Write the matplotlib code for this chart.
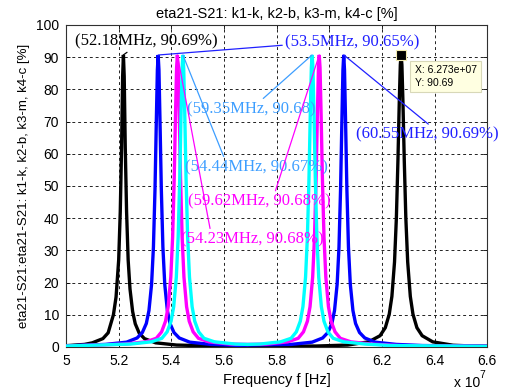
import matplotlib
matplotlib.use("Agg")
import matplotlib.pyplot as plt
import numpy as np

# Frequency in MHz, efficiency in %
freq_k = [50.0, 50.7, 51.0, 51.4, 51.6, 51.8, 51.9, 52.0, 52.06, 52.11, 52.15, 52.18,
          52.21, 52.25, 52.30, 52.36, 52.43, 52.53, 52.63, 52.78, 52.98, 53.4, 54.2,
          55.5, 57.5, 59.5, 60.7, 61.5, 61.93, 62.13, 62.28, 62.38, 62.48, 62.55, 62.61,
          62.66, 62.70, 62.73, 62.76, 62.80, 62.85, 62.91, 62.98, 63.08, 63.18, 63.33,
          63.53, 63.93, 64.7, 65.3, 66.0]
eta_k = [0.4, 0.8, 1.3, 2.6, 4.4, 10.0, 15.5, 27.0, 42.0, 62.0, 84.0, 90.69,
         84.0, 62.0, 42.0, 27.0, 18.0, 11.0, 7.2, 4.3, 2.6, 1.3, 0.6,
         0.35, 0.25, 0.3, 0.6, 1.6, 3.5, 6.0, 10.2, 15.7, 26.4, 40.0, 58.0,
         76.0, 87.6, 90.69, 87.6, 76.0, 58.0, 40.0, 26.4, 15.7, 10.2, 6.0,
         3.5, 1.6, 0.55, 0.35, 0.25]

freq_b = [50.0, 51.5, 52.3, 52.7, 52.9, 53.05, 53.15, 53.25, 53.32, 53.38, 53.43, 53.47,
          53.5, 53.53, 53.57, 53.62, 53.68, 53.75, 53.85, 53.95, 54.1, 54.3, 54.7, 55.5,
          56.5, 57.0, 58.55, 59.35, 59.75, 59.95, 60.1, 60.2, 60.3, 60.37, 60.43, 60.48,
          60.52, 60.55, 60.58, 60.62, 60.67, 60.73, 60.8, 60.9, 61.0, 61.15, 61.35, 61.75,
          62.55, 63.55, 66.0]
eta_b = [0.35, 0.8, 1.5, 2.8, 4.5, 7.3, 11.3, 19.5, 31.0, 49.0, 70.0, 86.0,
         90.65, 86.0, 70.0, 49.0, 31.0, 19.5, 11.3, 7.3, 4.5, 2.8, 1.5, 0.8,
         0.5, 0.6, 0.8, 1.5, 2.8, 4.5, 7.3, 11.3, 19.5, 31.0, 49.0, 70.0,
         86.0, 90.69, 86.0, 70.0, 49.0, 31.0, 19.5, 11.3, 7.3, 4.5, 2.8, 1.5,
         0.8, 0.45, 0.25]

freq_m = [50.0, 52.23, 53.03, 53.43, 53.63, 53.78, 53.88, 53.98, 54.05, 54.11, 54.16,
          54.20, 54.23, 54.26, 54.30, 54.35, 54.41, 54.48, 54.58, 54.68, 54.83, 55.03,
          55.43, 56.23, 56.9, 57.62, 58.42, 58.82, 59.02, 59.17, 59.27, 59.37, 59.44,
          59.50, 59.55, 59.59, 59.62, 59.65, 59.69, 59.74, 59.80, 59.87, 59.97, 60.07,
          60.22, 60.42, 60.82, 61.62, 62.62, 66.0]
eta_m = [0.3, 0.9, 1.6, 2.7, 4.7, 8.0, 12.5, 21.7, 34.2, 52.3, 72.5,
         86.7, 90.68, 86.7, 72.5, 52.3, 34.2, 21.7, 12.5, 8.0, 4.7, 2.7,
         1.6, 0.9, 0.8, 0.9, 1.6, 2.7, 4.7, 8.0, 12.5, 21.7, 34.2,
         52.3, 72.5, 86.7, 90.68, 86.7, 72.5, 52.3, 34.2, 21.7, 12.5, 8.0,
         4.7, 2.7, 1.6, 0.9, 0.45, 0.2]

freq_c = [50.0, 52.44, 53.24, 53.64, 53.84, 53.99, 54.09, 54.19, 54.26, 54.32, 54.37,
          54.41, 54.44, 54.47, 54.51, 54.56, 54.62, 54.69, 54.79, 54.89, 55.04, 55.24,
          55.64, 56.44, 56.9, 57.35, 58.15, 58.55, 58.75, 58.90, 59.00, 59.10, 59.17,
          59.23, 59.28, 59.32, 59.35, 59.38, 59.42, 59.47, 59.53, 59.60, 59.70, 59.80,
          59.95, 60.15, 60.55, 61.35, 62.35, 66.0]
eta_c = [0.3, 0.9, 1.6, 2.7, 4.7, 8.0, 12.5, 21.7, 34.2, 52.3, 72.5,
         86.7, 90.67, 86.7, 72.5, 52.3, 34.2, 21.7, 12.5, 8.0, 4.7, 2.7,
         1.6, 0.9, 0.8, 0.9, 1.6, 2.7, 4.7, 8.0, 12.5, 21.7, 34.2,
         52.3, 72.5, 86.7, 90.68, 86.7, 72.5, 52.3, 34.2, 21.7, 12.5, 8.0,
         4.7, 2.7, 1.6, 0.9, 0.45, 0.2]

# labelled peaks
tip_freq = [52.18, 53.5, 59.35, 54.44, 59.62, 54.23, 60.55]
tip_val = [90.69, 90.65, 90.68, 90.67, 90.68, 90.68, 90.69]
tip_text = ["(52.18MHz, 90.69%)", "(53.5MHz, 90.65%)", "(59.35MHz, 90.68)",
            "(54.44MHz, 90.67%)", "(59.62MHz, 90.68%)", "(54.23MHz, 90.68%)",
            "(60.55MHz, 90.69%)"]

# data cursor
cursor_freq = 62.73
cursor_val = 90.69

xtick_labels = ["5", "5.2", "5.4", "5.6", "5.8", "6", "6.2", "6.4", "6.6"]
ytick_labels = ["0", "10", "20", "30", "40", "50", "60", "70", "80", "90", "100"]

plt.rcParams["font.family"] = ["Liberation Sans", "DejaVu Sans"]

fig = plt.figure(figsize=(5.08, 3.89), dpi=100)
ax = fig.add_axes([0.130, 0.108, 0.829, 0.828])

series = [(freq_k, eta_k, "#000000"), (freq_b, eta_b, "#0000ff"),
          (freq_m, eta_m, "#ff00ff"), (freq_c, eta_c, "#00ffff")]
for f, v, c in series:
    ax.plot(np.array(f) * 1e6, v, color=c, lw=2.4, zorder=3, solid_joinstyle="miter")

ax.set_xlim(5e7, 6.6e7)
ax.set_ylim(0, 100)
ax.set_xticks([float(t) * 1e7 for t in xtick_labels])
ax.set_xticklabels(xtick_labels)
ax.set_yticks([float(t) for t in ytick_labels])
ax.set_yticklabels(ytick_labels)
ax.tick_params(direction="in", length=3, width=0.6, labelsize=10, pad=5,
               top=True, right=True)
ax.grid(True, color="#222222", linestyle=(0, (3, 3)), linewidth=0.7)
ax.set_axisbelow(True)
for s in ax.spines.values():
    s.set_color("#303030")
    s.set_linewidth(0.8)

ax.set_title("eta21-S21: k1-k, k2-b, k3-m, k4-c [%]", fontsize=10.5, pad=5)
ax.set_xlabel("Frequency f [Hz]", fontsize=10.5, labelpad=4)
ax.set_ylabel("eta21-S21:eta21-S21: k1-k, k2-b, k3-m, k4-c [%]", fontsize=9.5, labelpad=4)
fig.text(0.893, 0.015, "x 10", fontsize=10, va="center", ha="left")
fig.text(0.944, 0.036, "7", fontsize=7.5, va="center", ha="left")

# annotation layout (offsets in points, leader attach point on text box)
tip_color = ["#000000", "#2020ff", "#3d9eff", "#3d9eff", "#ff00ff", "#ff00ff", "#2020ff"]
tip_offset = [(16.3, 9.6), (139.7, 8.9), (-43.9, -39.1), (52.7, -80.9),
              (-43.2, -105.6), (54.1, -132.7), (60.0, -57.6)]
tip_rel = [(0.41, 0.1), (0.0, 0.35), (0.5, 0.5), (0.29, 0.8),
           (0.6, 0.8), (0.21, 0.8), (0.56, 0.8)]
for f, v, t, c, off, rel in zip(tip_freq, tip_val, tip_text, tip_color, tip_offset, tip_rel):
    ax.annotate(t, xy=(f * 1e6, v), xytext=off, textcoords="offset points",
                ha="center", va="center", color=c, fontsize=12,
                family=["Liberation Serif", "DejaVu Serif"], zorder=5,
                annotation_clip=False,
                arrowprops=dict(arrowstyle="-", color=c, lw=0.9, shrinkA=0, shrinkB=0,
                                relpos=rel))

ax.plot(cursor_freq * 1e6, cursor_val, marker="s", markersize=7, color="black",
        markeredgecolor="#f2eab0", markeredgewidth=0.8, zorder=6, clip_on=False)
ax.annotate(f"X: {cursor_freq * 1e6:.3e}\nY: {cursor_val:.2f}",
            xy=(cursor_freq * 1e6, cursor_val), xytext=(32, -15.6),
            textcoords="offset points", ha="center", va="center", fontsize=7.5,
            multialignment="left", linespacing=1.3, zorder=7,
            bbox=dict(boxstyle="square,pad=0.4", fc="#ffffe1", ec="#d8d8b8", lw=0.8))

fig.savefig("out.png", dpi=100)
